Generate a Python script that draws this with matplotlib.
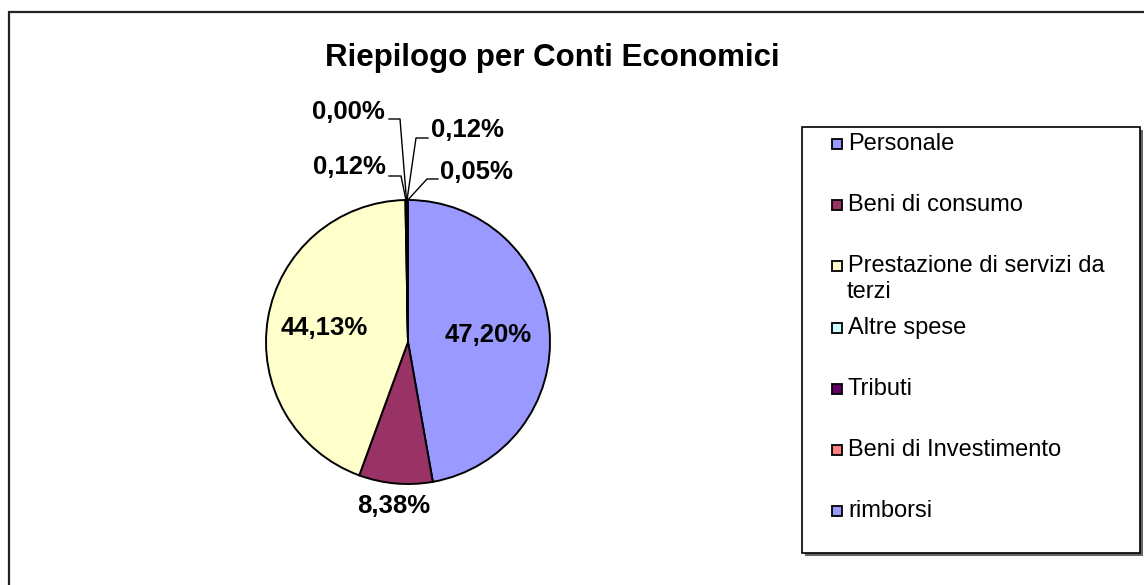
import numpy as np
import matplotlib
matplotlib.use("Agg")
import matplotlib.pyplot as plt
from matplotlib.patches import Rectangle

# ---- data ----
title = "Riepilogo per Conti Economici"
categories = ["Personale", "Beni di consumo", "Prestazione di servizi da terzi",
              "Altre spese", "Tributi", "Beni di Investimento", "rimborsi"]
values = [47.20, 8.38, 44.13, 0.12, 0.00, 0.12, 0.05]
colors = ["#9999FF", "#993366", "#FFFFCC", "#CCFFFF", "#660066", "#FF8080", "#9999FF"]
legend_labels = ["Personale", "Beni di consumo", "Prestazione di servizi da\nterzi",
                 "Altre spese", "Tributi", "Beni di Investimento", "rimborsi"]

W, H = 1144, 585
plt.rcParams['font.family'] = ['Liberation Sans', 'DejaVu Sans']
fig = plt.figure(figsize=(W / 100, H / 100), dpi=100)
ax = fig.add_axes([0, 0, 1, 1])

def Y(py):
    return H - py

cx, cy, R = 408, Y(342), 142
wedges, _ = ax.pie(values, colors=colors, startangle=90, counterclock=False,
                   center=(cx, cy), radius=R, normalize=True,
                   wedgeprops=dict(edgecolor="black", linewidth=1.4))
ax.set_xlim(0, W)
ax.set_ylim(0, H)
ax.set_aspect('auto')
ax.axis('off')

def fmt(v):
    return f"{v:.2f}%".replace(".", ",")

lab_font = dict(fontsize=18.5, fontweight='bold', color='black')

# big slice labels
big = {0: 0.57, 1: 1.16, 2: 0.60}
for i, dist in big.items():
    w = wedges[i]
    a = np.deg2rad((w.theta1 + w.theta2) / 2)
    ax.text(cx + dist * R * np.cos(a), cy + dist * R * np.sin(a), fmt(values[i]),
            ha='center', va='center', **lab_font)

# small slice labels with leader lines (layout positions in image pixels)
small_layout = {
    3: dict(text=(386, 167), ha='right', line=[(389, 176), (401, 176)]),
    4: dict(text=(385, 112), ha='right', line=[(389, 119), (400, 119)]),
    5: dict(text=(431, 130), ha='left', line=[(428, 138), (416, 138)]),
    6: dict(text=(440, 172), ha='left', line=[(438, 179), (427, 179)]),
}
for i, lay in small_layout.items():
    w = wedges[i]
    a = np.deg2rad((w.theta1 + w.theta2) / 2)
    rx, ry = cx + R * np.cos(a), cy + R * np.sin(a)
    pts = [(x, Y(y)) for x, y in lay['line']] + [(rx, ry)]
    ax.plot([p[0] for p in pts], [p[1] for p in pts], color='black', lw=1.0)
    tx, ty = lay['text']
    ax.text(tx, Y(ty), fmt(values[i]), ha=lay['ha'], va='center', **lab_font)

# title
ax.text(552, Y(58), title, ha='center', va='center', fontsize=22.5, fontweight='bold')

# outer chart frame (extends beyond image on right/bottom)
ax.add_patch(Rectangle((9, Y(H + 20)), W + 20, (H + 20) - 12, fill=False,
                       edgecolor='#222222', lw=1.6, clip_on=False))

# legend box with shadow
lx0, ly0, lx1, ly1 = 802, 127, 1140, 553
ax.add_patch(Rectangle((lx0 + 3, Y(ly1 + 3)), lx1 - lx0, ly1 - ly0,
                       facecolor='#666666', edgecolor='none'))
ax.add_patch(Rectangle((lx0, Y(ly1)), lx1 - lx0, ly1 - ly0,
                       facecolor='white', edgecolor='black', lw=1.2))
y0, step = 144, 61.2
for k, (lab, col) in enumerate(zip(legend_labels, colors)):
    yc = y0 + k * step
    ax.add_patch(Rectangle((832, Y(yc + 5)), 10, 10, facecolor=col,
                           edgecolor='black', lw=1.3))
    for j, line in enumerate(lab.split("\n")):
        ax.text(848 if j == 0 else 847, Y(yc + j * 26), line, ha='left', va='center',
                fontsize=17, color='black')

fig.savefig("out.png", dpi=100)
